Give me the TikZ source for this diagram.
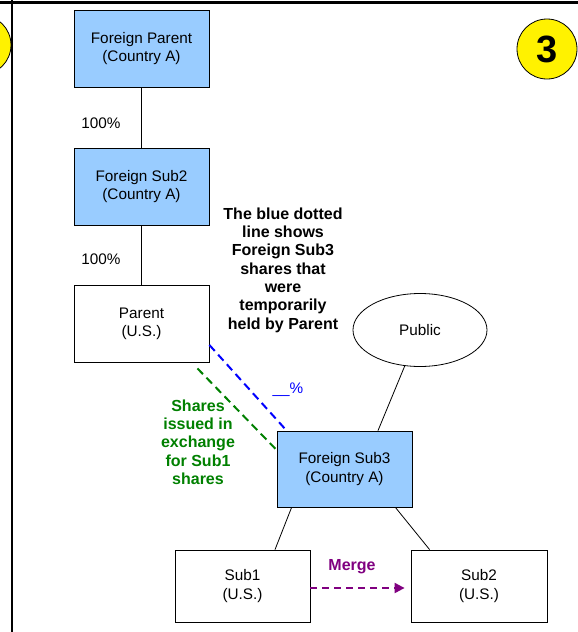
\documentclass[tikz,border=0pt]{standalone}
\usepackage{fontspec}
\setmainfont{Liberation Sans}
\usetikzlibrary{shapes.geometric,calc,arrows.meta}
\definecolor{boxblue}{RGB}{153,204,255}
\definecolor{dgreen}{RGB}{0,128,0}
\definecolor{dpurple}{RGB}{128,0,128}
\tikzset{
  txt/.style={font=\fontsize{15.3}{18.3}\selectfont, align=center, inner sep=0pt},
  boldtxt/.style={txt, font=\fontsize{16}{18.3}\selectfont\bfseries},
  bluebox/.style={draw, line width=0.8pt, fill=boxblue, minimum width=135pt, minimum height=77pt, txt},
  whitebox/.style={draw, line width=0.8pt, fill=white, minimum width=135pt, minimum height=77pt, txt},
  link/.style={line width=0.8pt},
  badge/.style={circle, draw, line width=0.8pt, fill=yellow, minimum size=60pt, inner sep=0pt},
}
\begin{document}
\begin{tikzpicture}[x=1pt,y=-1pt]
\useasboundingbox (0,0) rectangle (578,632);
% frame
\draw[line width=3pt] (0,2) -- (578,2);
\draw[line width=2.5pt] (12,0) -- (12,632);
% badges
\node[badge] (badgeL) at (-19,45) {};
\node[badge, font=\fontsize{38}{40}\bfseries] (badgeR) at (547,49) {3};
% boxes
\node[bluebox] (fparent) at (141.5,48.5) {Foreign Parent\\(Country A)};
\node[bluebox] (fsub2) at (141.5,186.5) {Foreign Sub2\\(Country A)};
\node[whitebox] (parent) at (141.5,323.5) {Parent\\(U.S.)};
\node[bluebox, minimum height=76pt] (fsub3) at (344.5,469) {Foreign Sub3\\(Country A)};
\node[whitebox, minimum height=72pt] (sub1) at (242.5,586) {Sub1\\(U.S.)};
\node[whitebox, minimum width=136pt, minimum height=72pt] (sub2) at (479,586) {Sub2\\(U.S.)};
\node[ellipse, draw, line width=0.8pt, minimum width=134pt, minimum height=73pt, txt] (public) at (420,330) {Public};
% labels
\node[txt] (pct1) at (101,123) {100\%};
\node[txt] (pct2) at (101,259) {100\%};
\node[boldtxt] (note) at (283,270) {The blue dotted\\line shows\\Foreign Sub3\\shares that\\were\\temporarily\\held by Parent};
\node[txt, text=blue] (pct3) at (288,390) {\_\_\%};
\node[boldtxt, text=dgreen] (shares) at (198,442) {Shares\\issued in\\exchange\\for Sub1\\shares};
\node[boldtxt, text=dpurple] (merge) at (352,567) {Merge};
% connectors
\draw[link] (fparent.south) -- (fsub2.north);
\draw[link] (fsub2.south) -- (parent.north);
\draw[link] (public.-113) -- ($(fsub3.north)+(33.5,0)$);
\draw[link] ($(fsub3.south west)+(15,0)$) -- ($(sub1.north)+(32.5,0)$);
\draw[link] ($(fsub3.south east)+(-17,0)$) -- ($(sub2.north west)+(19,0)$);
\coordinate (gstart) at ($(parent.south east)+(-12,6)$);
\draw[blue, line width=2pt, dash pattern=on 8pt off 5pt] ($(parent.east)+(0,21.5)$) -- ($(fsub3.north west)+(10,0)$);
\draw[dgreen, line width=2pt, dash pattern=on 8pt off 5pt] (gstart) -- ($(fsub3.west)+(0,-19)$);
\draw[dpurple, line width=2pt, dash pattern=on 7pt off 5pt, -{Triangle[length=10pt,width=10pt]}] ($(sub1.east)+(0,2)$) -- ($(sub2.west)+(-6,2)$);
\end{tikzpicture}
\end{document}
